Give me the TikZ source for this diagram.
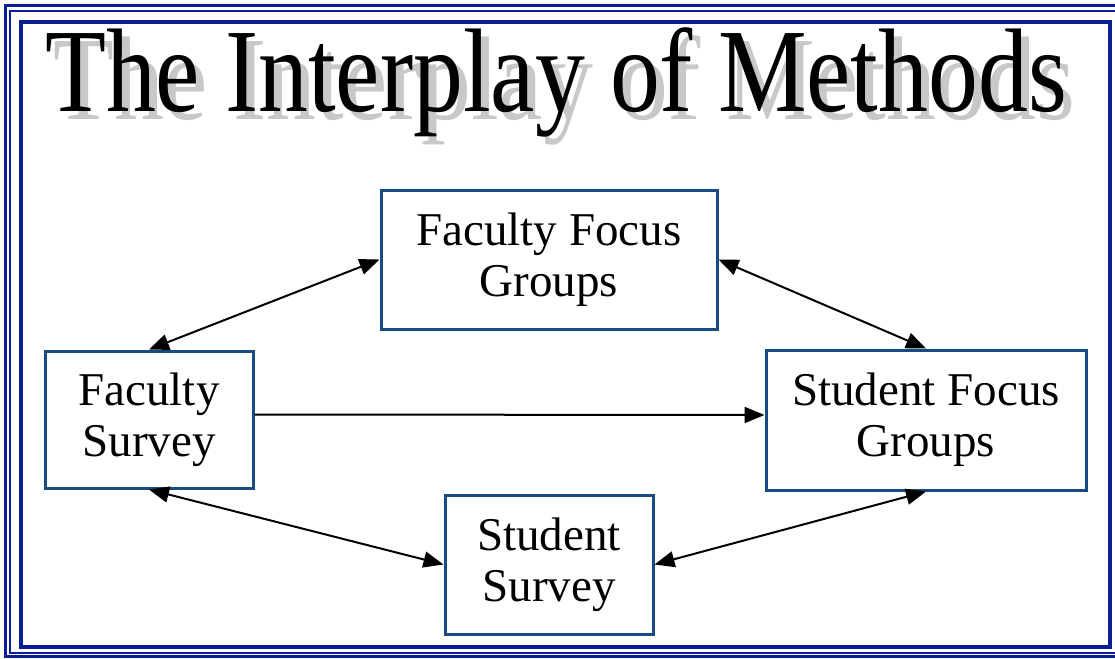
\documentclass[tikz,border=0pt]{standalone}
\usepackage{fontspec}
\setmainfont{Liberation Serif}
\usetikzlibrary{arrows.meta}
\definecolor{frameblue}{RGB}{10,30,150}
\definecolor{boxblue}{RGB}{24,76,128}
\definecolor{shadowgray}{RGB}{200,200,200}
\tikzset{
  methodbox/.style={draw=boxblue, line width=3pt, fill=white, align=center,
    font=\fontsize{47}{51}\selectfont, inner sep=0pt},
  link/.style={line width=2pt, black, {Triangle[length=20pt,width=16pt]}-{Triangle[length=20pt,width=16pt]}},
  onelink/.style={line width=2pt, black, -{Triangle[length=20pt,width=16pt]}},
  titletext/.style={anchor=base, inner sep=0pt, font=\fontsize{119}{119}\selectfont}
}
\begin{document}
\begin{tikzpicture}[x=1pt,y=-1pt]
\useasboundingbox (0,0) rectangle (1115,658);
\clip (0,0) rectangle (1115,658);
\fill[white] (0,0) rectangle (1115,658);
% frame
\draw[frameblue, line width=3pt] (5.5,6) rectangle (1120,656.5);
\draw[frameblue, line width=2pt] (10,11) rectangle (1116,652.5);
\draw[frameblue, line width=4pt] (21,22) rectangle (1110,647);
% title with shadow
\node[titletext, text=shadowgray] (titleshadow) at (564,119) {\scalebox{0.838}[1]{The Interplay of Methods}};
\node[titletext, text=black] (title) at (556,112) {\scalebox{0.838}[1]{The Interplay of Methods}};
% boxes
\node[methodbox, minimum width=336pt, minimum height=139pt] (ffg) at (549,259.5) {Faculty Focus\\Groups};
\node[methodbox, minimum width=208pt, minimum height=137pt] (fs) at (149,419.5) {Faculty\\Survey};
\node[methodbox, minimum width=320pt, minimum height=140pt] (sfg) at (926,420) {Student Focus\\Groups};
\node[methodbox, minimum width=208pt, minimum height=139pt] (ss) at (549,564.5) {Student\\Survey};
% connectors
\draw[link] (fs.north) -- (ffg.west);
\draw[link] (ffg.east) -- (sfg.north);
\draw[onelink] ([yshift=5pt]fs.east) -- ([yshift=5pt]sfg.west);
\draw[link] (fs.south) -- (ss.west);
\draw[link] (ss.east) -- (sfg.south);
\end{tikzpicture}
\end{document}
